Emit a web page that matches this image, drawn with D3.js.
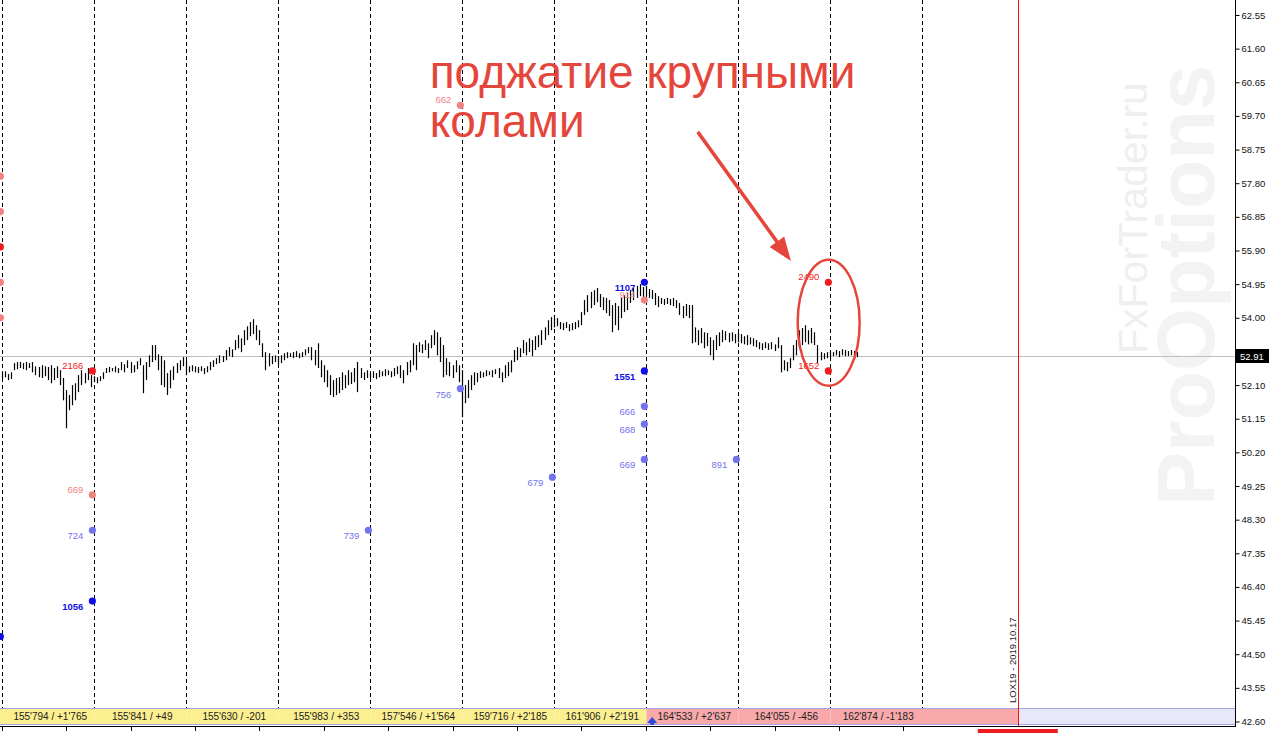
<!DOCTYPE html>
<html>
<head>
<meta charset="utf-8">
<script src="https://cdn.jsdelivr.net/npm/d3@7"></script>
<style>
  body { margin: 0; background: #fff; }
  svg { display: block; }
</style>
</head>
<body>
<div id="chart"></div>
<script>
// bar highs / lows, one per bar (10 sessions of 30 bars, last one partial)
const highs = [
  52.46,52.49,52.41,52.46,52.72,52.75,52.75,52.72,52.75,52.72,52.75,52.63,52.61,52.66,52.63,52.61,52.66,52.58,52.63,52.52,52.30,51.96,51.82,52.10,52.15,52.38,52.52,52.44,52.58,52.38,
  52.35,52.32,52.35,52.46,52.58,52.61,52.58,52.63,52.58,52.75,52.69,52.80,52.75,52.66,52.77,52.86,52.66,52.75,52.94,53.23,53.23,52.97,52.92,52.80,52.44,52.52,52.63,52.72,52.80,52.89,
  52.80,52.63,52.66,52.63,52.61,52.63,52.58,52.63,52.75,52.80,52.86,52.94,52.92,53.09,53.17,53.11,53.37,53.51,53.42,53.65,53.76,53.88,53.96,53.79,53.65,53.28,53.03,53.00,52.92,52.94,
  52.92,52.94,53.00,53.03,53.00,53.03,53.06,53.00,53.03,53.11,53.17,53.17,53.09,53.28,52.80,52.66,52.52,52.38,52.24,52.30,52.32,52.46,52.38,52.52,52.46,52.58,52.75,52.58,52.46,52.52,
  52.46,52.49,52.44,52.52,52.49,52.55,52.52,52.49,52.58,52.63,52.66,52.52,52.75,52.80,53.28,53.23,53.31,53.25,53.37,53.28,53.51,53.65,53.59,53.45,53.23,52.86,52.75,52.66,52.80,52.66,
  52.52,52.10,52.24,52.38,52.46,52.44,52.49,52.46,52.52,52.49,52.52,52.55,52.58,52.46,52.66,52.75,52.80,53.09,53.17,53.14,53.37,53.31,53.42,53.37,53.48,53.51,53.65,53.73,53.93,54.02,
  54.08,53.99,53.88,53.85,53.88,53.82,53.85,53.88,53.93,54.16,54.50,54.64,54.73,54.78,54.84,54.67,54.58,54.56,54.50,54.36,54.42,54.33,54.56,54.64,54.70,54.78,54.84,54.90,54.95,54.87,
  54.90,54.81,54.78,54.70,54.61,54.56,54.53,54.56,54.53,54.56,54.50,54.42,54.33,54.39,54.36,54.36,53.73,53.65,53.71,53.59,53.57,53.45,53.37,53.51,53.59,53.65,53.62,53.57,53.59,53.54,
  53.57,53.54,53.48,53.51,53.45,53.42,53.37,53.31,53.28,53.31,53.28,53.31,53.25,53.45,53.23,52.80,52.75,52.86,53.23,53.37,53.65,53.71,53.79,53.65,53.71,53.59,53.23,53.03,53.00,53.03,
  53.06,53.03,53.09,53.06,53.11,53.09,53.06,53.09,53.06,53.03
];
const lows = [
  52.30,52.32,52.24,52.27,52.52,52.55,52.58,52.55,52.52,52.58,52.46,52.38,52.32,52.30,52.35,52.24,52.15,52.24,52.30,52.10,51.67,50.88,51.39,51.53,51.67,51.90,52.10,52.15,52.24,52.04,
  52.18,52.15,52.21,52.27,52.44,52.46,52.49,52.46,52.44,52.52,52.46,52.58,52.44,52.46,52.55,52.66,51.87,52.24,52.61,52.75,52.80,52.52,52.10,52.04,51.82,52.01,52.24,52.44,52.52,52.63,
  52.38,52.46,52.49,52.46,52.44,52.49,52.41,52.46,52.52,52.61,52.69,52.72,52.75,52.80,52.92,52.89,53.09,53.14,53.03,53.23,53.37,53.48,53.54,53.37,53.23,52.89,52.52,52.63,52.69,52.75,
  52.69,52.72,52.80,52.86,52.89,52.86,52.89,52.86,52.89,52.94,53.00,52.80,52.66,52.58,52.32,52.18,52.04,51.82,51.76,51.82,51.87,51.96,52.01,52.10,52.13,52.18,51.90,52.30,52.24,52.30,
  52.24,52.30,52.27,52.32,52.35,52.35,52.38,52.32,52.35,52.41,52.30,52.15,52.38,52.46,52.66,52.52,53.03,53.00,53.09,52.86,53.14,53.23,52.94,52.75,52.32,52.38,52.35,52.30,52.46,52.18,
  51.19,51.59,51.73,51.96,52.10,52.18,52.30,52.32,52.35,52.38,52.32,52.41,52.30,52.18,52.30,52.35,52.46,52.75,52.80,52.89,53.00,52.94,53.03,52.92,53.09,53.17,53.23,53.37,53.51,53.65,
  53.73,53.76,53.68,53.65,53.71,53.62,53.65,53.68,53.73,53.79,54.08,54.16,54.27,54.36,54.44,54.30,54.22,54.13,54.05,53.59,53.79,53.65,53.99,54.16,54.22,54.42,54.50,54.56,54.61,54.58,
  54.61,54.56,54.53,54.36,54.30,54.39,54.36,54.39,54.36,54.33,54.27,54.08,53.99,54.05,53.99,53.28,53.31,53.23,53.28,53.14,53.20,52.94,52.80,53.09,53.20,53.31,53.37,53.31,53.34,53.28,
  53.31,53.28,53.25,53.23,53.25,53.20,53.17,53.11,53.09,53.14,53.09,53.11,53.06,53.14,52.46,52.52,52.49,52.58,52.80,52.94,53.17,53.23,53.31,53.25,53.28,53.23,52.72,52.80,52.83,52.86,
  52.89,52.92,52.94,52.89,52.94,52.92,52.92,52.94,52.92,52.89
];

// session separators (bar index) and the session summary strip
const sessionStarts = [0, 30, 60, 90, 120, 150, 180, 210, 240, 270, 300];
const sessionLabels = [
  "155'794 / +1'765", "155'841 / +49", "155'630 / -201", "155'983 / +353", "157'546 / +1'564",
  "159'716 / +2'185", "161'906 / +2'191", "164'533 / +2'637", "164'055 / -456", "162'874 / -1'183"
];
const sessionTone = ["y", "y", "y", "y", "y", "y", "y", "p", "p", "p"];

// price axis
const priceTicks = [62.55, 61.60, 60.65, 59.70, 58.75, 57.80, 56.85, 55.90, 54.95, 54.00, 53.05,
  52.10, 51.15, 50.20, 49.25, 48.30, 47.35, 46.40, 45.45, 44.50, 43.55, 42.60];
const lastPrice = 52.91;

// time axis (mostly cut off at the bottom edge)
const timeBars = [0, 21, 42, 63, 84, 105, 126, 147, 168, 189, 210, 231, 252, 273, 294];
const timeLabels = ["1 Oct 2019", "1 Oct 21:00", "2 Oct 15:00", "3 Oct 10:00", "4 Oct 04:00",
  "4 Oct 22:00", "7 Oct 16:00", "8 Oct 11:00", "9 Oct 05:00", "9 Oct 23:00", "10 Oct 18:00",
  "11 Oct 12:00", "14 Oct 07:00", "15 Oct 01:00", "15 Oct 19:00"];
const expiryStamp = "2019.10.18 00:00";

// option expiry marker
const expiryBar = 331.5;
const expiryText = "LOX19 - 2019.10.17";

// strike volume dots: bar index, strike, volume, type
const sigBars   = [-0.6, -0.6, -0.6, -0.6, -0.6, -0.6, 29.4, 29.4, 29.4, 29.4, 119.4, 149.4, 149.4, 179.4,
  209.4, 209.4, 209.4, 209.4, 209.4, 209.4, 239.4, 269.4, 269.4];
const sigPrices = [58.0, 57.0, 56.0, 55.0, 54.0, 45.0, 52.5, 49.0, 48.0, 46.0, 48.0, 60.0, 52.0, 49.5,
  55.0, 54.5, 52.5, 51.5, 51.0, 50.0, 50.0, 55.0, 52.5];
const sigLabels = ["", "", "", "", "", "", "2166", "669", "724", "1056", "739", "662", "756", "679",
  "1107", "914", "1551", "666", "688", "669", "891", "2490", "1652"];
const sigTypes  = ["cs", "cs", "c", "cs", "cs", "p", "c", "cs", "ps", "p", "ps", "cs", "ps", "ps",
  "p", "cs", "p", "ps", "ps", "ps", "ps", "c", "c"];

const sigColor = { c: "#ee1c1c", cs: "#f08282", p: "#1010e6", ps: "#7373ee" };

const W = 1276, H = 733;
const plotRight = 1235, plotBottom = 726;
const bandTop = 708, bandBottom = 725;
const px = v => Math.floor(v) + 0.5;

const svg = d3.select("#chart").append("svg")
  .attr("width", W).attr("height", H)
  .style("font-family", "'Liberation Sans', Arial, sans-serif");

const x = d3.scaleLinear().domain([0, 30]).range([2.2, 94.2]);
const y = d3.scaleLinear().domain([42.60, 62.55]).range([721.5, 15]);

svg.append("defs").append("clipPath").attr("id", "plot")
  .append("rect").attr("x", 0).attr("y", 0).attr("width", plotRight).attr("height", plotBottom);

const plot = svg.append("g").attr("clip-path", "url(#plot)");

// watermark
const wm = plot.append("g");
wm.append("text")
  .attr("transform", "translate(1214,506) rotate(-90)")
  .attr("font-size", 81).attr("font-weight", "bold")
  .attr("fill", "#f3f3f3")
  .text("ProOptions");
wm.append("text")
  .attr("transform", "translate(1147,354) rotate(-90)")
  .attr("font-size", 41)
  .attr("fill", "#efefef")
  .text("FxForTrader.ru");

// session separators
plot.selectAll(".sep").data(sessionStarts).enter().append("line")
  .attr("x1", d => px(x(d))).attr("x2", d => px(x(d)))
  .attr("y1", 0).attr("y2", bandTop)
  .attr("stroke", "#000").attr("stroke-dasharray", "4,3");

// last price line
plot.append("line")
  .attr("x1", 0).attr("x2", plotRight)
  .attr("y1", px(y(lastPrice))).attr("y2", px(y(lastPrice)))
  .attr("stroke", "#c0c0c0");

// bars
plot.selectAll(".bar").data(highs).enter().append("line")
  .attr("x1", (d, i) => px(x(i))).attr("x2", (d, i) => px(x(i)))
  .attr("y1", d => y(d)).attr("y2", (d, i) => y(lows[i]))
  .attr("stroke", "#000").attr("stroke-width", 1.2);

// dots + labels
const sig = plot.selectAll(".sig").data(sigBars).enter().append("g");
sig.append("circle")
  .attr("cx", d => x(d)).attr("cy", (d, i) => y(sigPrices[i]))
  .attr("r", 3.6)
  .attr("fill", (d, i) => sigColor[sigTypes[i]]);
sig.append("text")
  .attr("x", d => x(d) - 9)
  .attr("y", (d, i) => y(sigPrices[i]) + (sigTypes[i][0] == "c" ? -2 : 9))
  .attr("text-anchor", "end")
  .attr("font-size", 9.5)
  .attr("font-weight", (d, i) => sigTypes[i] == "p" ? "bold" : "normal")
  .attr("fill", (d, i) => sigColor[sigTypes[i]])
  .text((d, i) => sigLabels[i]);

// expiry line + text
plot.append("line")
  .attr("x1", px(x(expiryBar))).attr("x2", px(x(expiryBar)))
  .attr("y1", 0).attr("y2", plotBottom)
  .attr("stroke", "#f01010");
plot.append("text")
  .attr("transform", `translate(${Math.floor(x(expiryBar)) - 2},703) rotate(-90)`)
  .attr("font-size", 9.5).attr("fill", "#222")
  .text(expiryText);

// session strip
const strip = svg.append("g");
sessionLabels.forEach((lab, k) => {
  const x0 = k == 0 ? 0 : px(x(sessionStarts[k]));
  const x1 = k == sessionLabels.length - 1 ? px(x(expiryBar)) : px(x(sessionStarts[k + 1]));
  strip.append("rect")
    .attr("x", x0).attr("y", bandTop).attr("width", x1 - x0).attr("height", bandBottom - bandTop)
    .attr("fill", sessionTone[k] == "y" ? "#fcef8f" : "#f9a9a9");
  strip.append("text")
    .attr("x", (x(sessionStarts[k]) + x(sessionStarts[k] + 30)) / 2 + 2)
    .attr("y", bandTop + 12)
    .attr("text-anchor", "middle")
    .attr("font-size", 10).attr("fill", "#222")
    .text(lab);
});
strip.append("rect")
  .attr("x", px(x(expiryBar)) + 0.5).attr("y", bandTop)
  .attr("width", plotRight - px(x(expiryBar)) - 0.5).attr("height", bandBottom - bandTop)
  .attr("fill", "#e8e8fb");
strip.append("line").attr("x1", 0).attr("x2", plotRight).attr("y1", bandTop + 0.5).attr("y2", bandTop + 0.5)
  .attr("stroke", "#a3a3e6");
strip.append("line").attr("x1", 0).attr("x2", plotRight).attr("y1", bandBottom - 0.5).attr("y2", bandBottom - 0.5)
  .attr("stroke", "#a3a3e6");
strip.append("line")
  .attr("x1", px(x(expiryBar))).attr("x2", px(x(expiryBar)))
  .attr("y1", bandTop).attr("y2", plotBottom).attr("stroke", "#f01010");
// little blue arrow in session 8
strip.append("path")
  .attr("transform", `translate(${x(sessionStarts[7]) + 6},${bandTop + 12})`)
  .attr("d", "M-5,3 L0,-3 L5,3 L2,3 L2,5 L-2,5 L-2,3 Z")
  .attr("fill", "#2a4ad8");

// frame
svg.append("line").attr("x1", 0).attr("x2", plotRight + 0.5).attr("y1", plotBottom + 0.5).attr("y2", plotBottom + 0.5)
  .attr("stroke", "#000");
svg.append("line").attr("x1", plotRight + 0.5).attr("x2", plotRight + 0.5).attr("y1", 0).attr("y2", plotBottom + 1)
  .attr("stroke", "#000");

// time axis, cut by the window edge
const tx = svg.append("g");
tx.selectAll(".tk").data(timeBars).enter().append("line")
  .attr("x1", d => px(x(d))).attr("x2", d => px(x(d)))
  .attr("y1", plotBottom + 1).attr("y2", plotBottom + 5)
  .attr("stroke", "#000");
tx.selectAll(".tl").data(timeBars).enter().append("text")
  .attr("x", d => x(d) + 3).attr("y", plotBottom + 13)
  .attr("font-size", 9.5).attr("fill", "#111")
  .text((d, i) => timeLabels[i]);
tx.append("rect")
  .attr("x", x(expiryBar) - 41).attr("y", plotBottom + 3).attr("width", 80).attr("height", 14)
  .attr("fill", "#ee1c1c");
tx.append("text")
  .attr("x", x(expiryBar) - 1).attr("y", plotBottom + 13)
  .attr("text-anchor", "middle").attr("font-size", 9.5).attr("fill", "#fff")
  .text(expiryStamp);

// price axis
const axis = svg.append("g")
  .attr("transform", `translate(${plotRight + 0.5},0)`)
  .call(d3.axisRight(y).tickValues(priceTicks).tickSize(4).tickPadding(2).tickFormat(d3.format(".2f")));
axis.select(".domain").remove();
axis.selectAll("text").attr("font-size", 9.5).attr("font-family", "'Liberation Sans', Arial, sans-serif").attr("fill", "#111");

// last price box
const lp = svg.append("g").attr("transform", `translate(${plotRight + 1},${Math.round(y(lastPrice))})`);
lp.append("rect").attr("x", 0).attr("y", -7).attr("width", 33).attr("height", 14).attr("fill", "#000");
lp.append("text").attr("x", 4).attr("y", 4).attr("font-size", 9.5).attr("fill", "#fff").text(lastPrice.toFixed(2));

// annotation
const red = "#e5463c";
const note = svg.append("g");
note.append("text")
  .attr("x", x(139.4)).attr("y", y(60.5))
  .attr("font-size", 46).attr("fill", red)
  .text("поджатие крупными");
note.append("text")
  .attr("x", x(139.4)).attr("y", y(59.1))
  .attr("font-size", 46).attr("fill", red)
  .text("колами");
const ax0 = x(226.8), ay0 = y(59.25), ax1 = x(257.2), ay1 = y(55.6);
const ang = Math.atan2(ay1 - ay0, ax1 - ax0);
note.append("line")
  .attr("x1", ax0).attr("y1", ay0)
  .attr("x2", ax1 - 16 * Math.cos(ang)).attr("y2", ay1 - 16 * Math.sin(ang))
  .attr("stroke", red).attr("stroke-width", 3.5);
note.append("path")
  .attr("transform", `translate(${ax1},${ay1}) rotate(${ang * 180 / Math.PI})`)
  .attr("d", "M0,0 L-24,-9 L-24,9 Z")
  .attr("fill", red);
note.append("ellipse")
  .attr("cx", x(269.5)).attr("cy", y(53.86))
  .attr("rx", 31).attr("ry", 63)
  .attr("fill", "none").attr("stroke", red).attr("stroke-width", 2.5);
</script>
</body>
</html>
